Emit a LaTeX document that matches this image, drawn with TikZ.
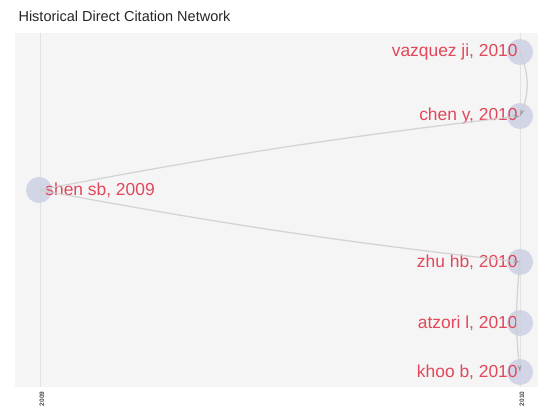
\documentclass[tikz,border=0pt]{standalone}
\usepackage{fontspec}
\setmainfont{Liberation Sans}
\usepackage{tikz}
\usetikzlibrary{arrows.meta,positioning,backgrounds}
\definecolor{panelgray}{HTML}{F5F5F5}
\definecolor{gridgray}{HTML}{E2E2E2}
\definecolor{paperblue}{HTML}{C9CEE3}
\definecolor{labelred}{HTML}{E2475A}
\definecolor{citegray}{HTML}{CFCFCF}

\begin{document}
\begin{tikzpicture}[
	x=1pt,y=1pt,
	paper/.style={
		circle,
		fill=paperblue,
		fill opacity=0.8,
		inner sep=0pt,
		minimum size=26pt
	},
	paperlabel/.style={
		text=labelred,
		text opacity=1,
		inner sep=0pt,
		font=\fontsize{17.4}{19}\selectfont
	},
	cite/.style={
		draw=citegray,
		draw opacity=0.85,
		line width=1.3pt,
		-{Stealth[length=7pt,width=4pt,color=black!40]}
	},
	year/.style={
		rotate=90,
		text=black!70,
		font=\fontsize{6.5}{7}\selectfont\bfseries
	},
	]
	\useasboundingbox (0,0) rectangle (540,411);
	\node[anchor=base west, font=\fontsize{14.5}{16}\selectfont, text=black!85] (title) at (15,389) {Historical Direct Citation Network};
	
	\node[paper,label={[paperlabel,label distance=-7pt]0:shen sb, 2009}] (shen) at (39,221) {};
	\node[paper,label={[paperlabel,label distance=-11pt]180:vazquez ji, 2010}] (vazquez) at (520,359) {};
	\node[paper,label={[paperlabel,label distance=-11pt]180:chen y, 2010}] (chen) at (520,295) {};
	\node[paper,label={[paperlabel,label distance=-11pt]180:zhu hb, 2010}] (zhu) at (520,149) {};
	\node[paper,label={[paperlabel,label distance=-11pt]180:atzori l, 2010}] (atzori) at (520,88) {};
	\node[paper,label={[paperlabel,label distance=-11pt]180:khoo b, 2010}] (khoo) at (520,39) {};
	
	\node[year] (y2009) at (42,12) {2009};
	\node[year] (y2010) at (522,12) {2010};
	
	\begin{scope}[on background layer]
		\fill[panelgray] (15,24) rectangle (538,378);
		\draw[gridgray, line width=1pt] (40,24) -- (40,378);
		\draw[gridgray, line width=1pt] (520,24) -- (520,378);
	\end{scope}
	\draw[cite] (shen.center) to[bend left=2] (chen.center);
	\draw[cite] (shen.center) to[bend right=2] (zhu.center);
	\draw[cite] (vazquez.center) to[bend left=22] (chen.center);
	\draw[cite] (zhu.center) to[bend right=6] (khoo.center);
\end{tikzpicture}
\end{document}
